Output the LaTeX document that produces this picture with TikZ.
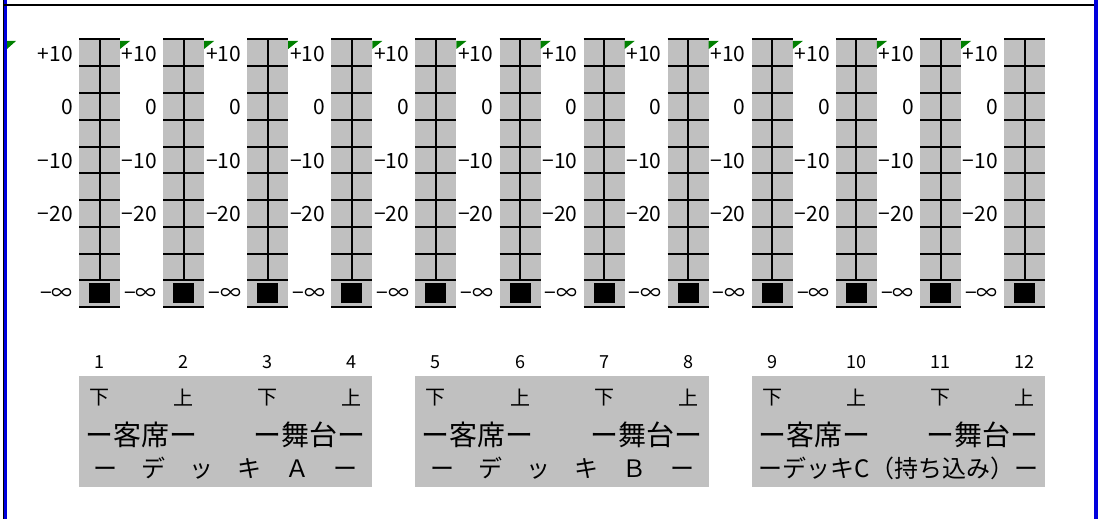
\documentclass[tikz,border=0pt]{standalone}
\usepackage{fontspec}
\setmainfont{Noto Sans CJK JP}
\definecolor{faderGray}{HTML}{C0C0C0}
\definecolor{markGreen}{HTML}{008000}
\definecolor{frameBlue}{HTML}{0000DD}
\tikzset{
  scalelbl/.style={anchor=east, inner sep=0pt, font=\fontsize{21}{21}\selectfont},
  chnum/.style={inner sep=0pt, font=\fontsize{18}{18}\selectfont},
  updown/.style={inner sep=0pt, font=\fontsize{20}{20}\selectfont},
  place/.style={inner sep=0pt, font=\fontsize{28}{28}\selectfont},
  deck/.style={inner sep=0pt, font=\fontsize{24}{24}\selectfont},
  grid/.style={line width=2pt}
}
\begin{document}
\begin{tikzpicture}[x=1pt, y=-1pt]
    \useasboundingbox (0,0) rectangle (1098,519);

    % frame
    \fill[frameBlue] (3.3,0) rectangle (6.7,519);
    \fill[frameBlue] (1094,0) rectangle (1098,519);
    \draw[line width=0.7pt] (3,0) -- (3,519);
    \draw[line width=2pt] (3,5) -- (1094,5);

    % deck panels
    \foreach \p/\name in {0/{ー　デ　ッ　キ　Ａ　ー}, 1/{ー　デ　ッ　キ　Ｂ　ー}, 2/{ーデッキC（持ち込み）ー}} {
        \pgfmathsetmacro{\pl}{79+\p*4*84.1}
        \fill[faderGray] (\pl,376) rectangle (\pl+293.3,487);
        \node (seat-\p) at (\pl+62.5, 435) [place] {ー客席ー};
        \node (stage-\p) at (\pl+230.7, 435) [place] {ー舞台ー};
        \node (deck-\p) at (\pl+146.6, 468) [deck] {\name};
    }

    % faders
    \foreach \i in {1,...,12} {
        \pgfmathsetmacro{\xl}{79+(\i-1)*84.1}
        \pgfmathsetmacro{\xr}{\xl+41}
        \pgfmathsetmacro{\xc}{\xl+20.5}
        \fill[faderGray] (\xl,39.5) rectangle (\xr,306);
        \foreach \k in {0,...,10}
            \draw[grid] (\xl,39.5+\k*26.75) -- (\xr,39.5+\k*26.75);
        \draw[grid] (\xc,39.5) -- (\xc,281);
        \fill[black] (\xc-10.5,283) rectangle (\xc+10.5,303);

        \ifnum\i=1
            \fill[markGreen] (7,41) -- (16,41) -- (7,49) -- cycle;
        \else
            \fill[markGreen] (\xl-43.1,41) -- (\xl-33.1,41) -- (\xl-43.1,49) -- cycle;
        \fi

        \foreach \v/\c in {+10/0, 0/2, −10/4, −20/6, −∞/9}
            \node (lbl-\i-\c) at (\xl-6, 40.5+\c*26.75+13.4) [scalelbl] {\v};

        \node (num-\i) at (\xc, 362) [chnum] {\i};
        \ifodd\i
            \node (pos-\i) at (\xc, 398) [updown] {下};
        \else
            \node (pos-\i) at (\xc, 398) [updown] {上};
        \fi
    }

\end{tikzpicture}
\end{document}
